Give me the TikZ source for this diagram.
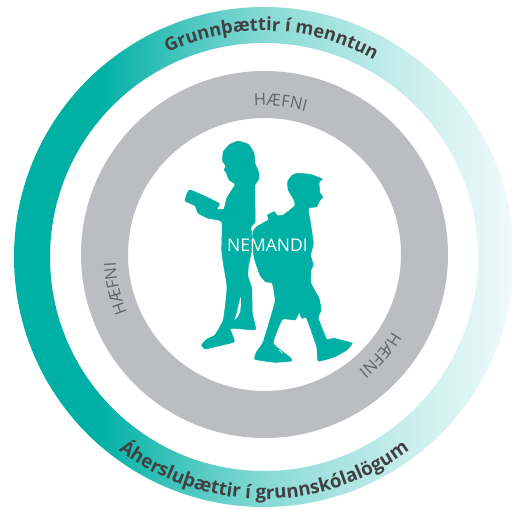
\documentclass[tikz,border=0pt]{standalone}
\usepackage{fontspec}
\setmainfont{Open Sans}
\newfontfamily\lblfont{Open Sans}
\newfontfamily\boldlbl{Open Sans}[UprightFont=*-Bold]
\usetikzlibrary{decorations.text}
\definecolor{teal1}{HTML}{00B0A5}
\definecolor{ringgray}{HTML}{BCBDC0}
\definecolor{txtdark}{HTML}{414042}
\definecolor{txtgray}{HTML}{646567}
\pgfdeclarehorizontalshading{ringfade}{100bp}{
 color(0bp)=(teal1); color(25bp)=(teal1); color(33.5bp)=(teal1);
 color(43.6bp)=(teal1!67!white); color(50.6bp)=(teal1!46!white);
 color(64bp)=(teal1!22!white); color(75bp)=(teal1!6!white); color(100bp)=(teal1!6!white)}
\tikzset{
 ringtext/.style={decorate,decoration={text along path,text align=center,text={#1}}},
 kid/.style={fill=teal1,draw=teal1,line width=.5pt,line join=round}
}
\begin{document}
\begin{tikzpicture}[x=1pt,y=1pt]
\useasboundingbox (0,0) rectangle (512,509);
\fill[white] (0,0) rectangle (512,509);
\coordinate (O1) at (264,252);
\coordinate (O2) at (264.5,254.5);
\begin{scope}
\clip (0,0) rectangle (512,509);
\shade[shading=ringfade,even odd rule] (O1) circle[radius=250] (O1) circle[radius=214];
\end{scope}
\fill[ringgray,even odd rule] (O2) circle[radius=183.5] (O2) circle[radius=136.5];
% silhouettes, in reference pixels (y downwards)
\begin{scope}[shift={(0,509)},x=1pt,y=-1pt]
\fill[kid] plot[smooth,tension=.25] coordinates {
(238.3,141)(248.3,144.3)(254,153.3)(255,163.3)(259,173.3)(258.3,180)(255,185)(255,208)(255,222)(251,226.7)(251.7,235)(251.7,250)(248.3,266.7)(248,276.7)(251.7,288.3)(252.3,313)(255.7,328.3)(253.3,330)(235,328.3)(230,329)(234.3,341.7)(215,346.7)(205,349)(201.7,345)(206.7,339.3)(215,335)(223.3,320)(226.7,293.3)(226.7,283.3)(223.3,263.3)(221.7,250)(221.7,221.7)(208.3,218.3)(198.3,213.3)(195,205.7)(185,200.7)(190,190)(219,203.3)(216.7,209)(224,209)(226.7,198.3)(235,185)(233.3,182.7)(229.3,180)(227.7,176.7)(226.7,173.3)(224.3,170)(225.7,165.7)(222.7,161)(223.3,151.7)(230,144.3)(238.3,141)};
\fill[white] (240.7,296.5) -- (241,303) -- (240.2,312) -- (238,316.5) -- (234.5,319.8) -- (236.5,314) -- (238.8,304) -- cycle;
\fill[kid] plot[smooth,tension=.25] coordinates {
(296.7,173.3)(310,174.3)(322.3,179)(319,182.3)(320,193.3)(322.7,196.7)(319,201.7)(316.7,206.7)(308.3,208.3)(310,220)(313.3,243.3)(310.5,255)(313.3,265)(311,270)(311,283.3)(319,298.3)(321,310)(318.3,318.3)(326.7,339.3)(333.3,338.3)(343.3,340.7)(352.3,343.3)(346.7,350)(335,356.7)(318.3,361)(316.7,346.7)(306.7,318.3)(301.7,318.3)(299.3,312.3)(295,320)(282.3,319.3)(273.3,343.3)(290,357.3)(291.7,361)(275,362.3)(255,359.3)(256.7,351.7)(263.3,341.7)(275,301.7)(272.3,283.3)(265.7,281.7)(260,275)(254.3,258.3)(252.5,243)(253,232)(256.7,226.7)(268.3,220)(267.7,215)(274.3,211.7)(277.3,215.7)(283.3,215)(295,205.7)(294,200)(288.3,190)(287.7,181.7)(291.7,175.7)(296.7,173.3)};
\draw[white,line width=.5pt] (279,350) -- (283,353.5) (280.5,348.5) -- (284.5,352);
\end{scope}
\node[text=white,font=\lblfont\fontsize{17.5}{20}\selectfont,inner sep=0pt] (nemandi) at (267.5,263.5) {NEMANDI};
\def\gf{\color{txtgray}\lblfont\fontsize{16.5}{20}\selectfont}
\def\df{\color{txtdark}\boldlbl\fontsize{18.2}{22}\selectfont}
\def\ef{\color{txtdark}\boldlbl\fontsize{18.8}{22}\selectfont}
\path[ringtext={|\gf|HÆFNI}] (O2) ++(124:149) arc[start angle=124,end angle=44,radius=149];
\path[ringtext={|\gf|HÆFNI}] (O2) ++(233:149) arc[start angle=233,end angle=153,radius=149];
\path[ringtext={|\gf|HÆFNI}] (O2) ++(-1:149) arc[start angle=-1,end angle=-81,radius=149];
\path[ringtext={|\df|Grunnþættir í menntun}] (O1) ++(153:226) arc[start angle=153,end angle=23,radius=226];
\path[ringtext={|\ef|Áhersluþættir í grunnskólalögum}] (O1) ++(205:242) arc[start angle=205,end angle=335,radius=242];
\end{tikzpicture}
\end{document}
